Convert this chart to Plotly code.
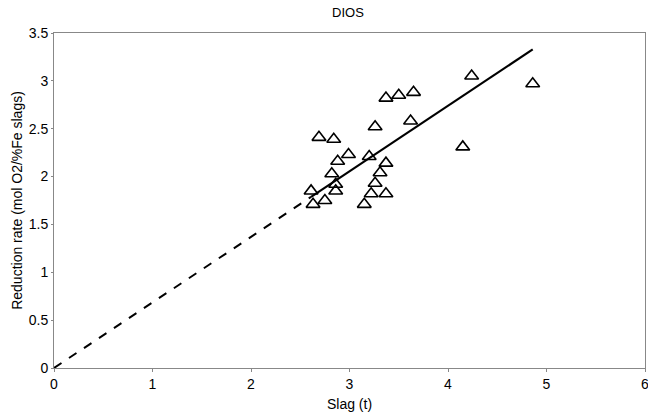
import plotly.graph_objects as go

slag_t = [4.24, 4.86, 3.65, 3.50, 3.37, 3.62, 3.26, 2.69, 2.84, 4.15, 2.99, 2.88, 3.20, 3.37,
          2.82, 3.31, 2.86, 3.26, 2.86, 2.61, 3.22, 3.37, 2.75, 2.63, 3.15]
rate = [3.05, 2.97, 2.88, 2.85, 2.82, 2.58, 2.52, 2.41, 2.39, 2.31, 2.23, 2.16, 2.21, 2.14,
        2.03, 2.04, 1.92, 1.93, 1.85, 1.85, 1.82, 1.82, 1.75, 1.71, 1.71]

fit_slope = 0.685
fit_solid_x = [2.61, 4.86]
fit_dash_x = [0.0, 2.61]

font_family = "Liberation Sans, Arial, sans-serif"

fig = go.Figure()
fig.add_trace(go.Scatter(x=fit_dash_x, y=[fit_slope * v for v in fit_dash_x], mode="lines",
                         line=dict(color="black", width=2, dash="dash"), showlegend=False))
fig.add_trace(go.Scatter(x=fit_solid_x, y=[fit_slope * v for v in fit_solid_x], mode="lines",
                         line=dict(color="black", width=2.2), showlegend=False))
fig.add_trace(go.Scatter(x=slag_t, y=rate, mode="markers",
                         marker=dict(symbol="triangle-up-open", size=12, color="black",
                                     line=dict(width=1.6, color="black")),
                         showlegend=False, cliponaxis=False))

fig.update_layout(
    width=648, height=417,
    margin=dict(l=54, r=3, t=33, b=49),
    paper_bgcolor="white", plot_bgcolor="white",
    font=dict(family=font_family, size=14, color="black"),
    title=dict(text="DIOS", x=0.537, xanchor="center", y=0.971, yanchor="middle",
               font=dict(size=13, family=font_family)),
    xaxis=dict(range=[0, 6], tickvals=[0, 1, 2, 3, 4, 5, 6], showgrid=False, zeroline=False,
               showline=True, linecolor="#888", linewidth=1, mirror=True,
               ticks="outside", ticklen=3, tickcolor="#888", automargin=False,
               ticklabeloverflow="allow",
               title=dict(text="Slag (t)", font=dict(size=14), standoff=8)),
    yaxis=dict(range=[0, 3.5], tickvals=[0, 0.5, 1, 1.5, 2, 2.5, 3, 3.5],
               ticktext=["0", "0.5", "1", "1.5", "2", "2.5", "3", "3.5"],
               showgrid=False, zeroline=False,
               showline=True, linecolor="#888", linewidth=1, mirror=True,
               ticks="outside", ticklen=2, tickcolor="#888", automargin=False,
               title=dict(text="Reduction rate (mol O2/%Fe slags)", font=dict(size=14), standoff=2)),
)

fig.write_html(
    "out.html",
    config={"displayModeBar": False},
    post_script="document.body.style.margin='0';document.body.style.overflow='hidden';",
)
